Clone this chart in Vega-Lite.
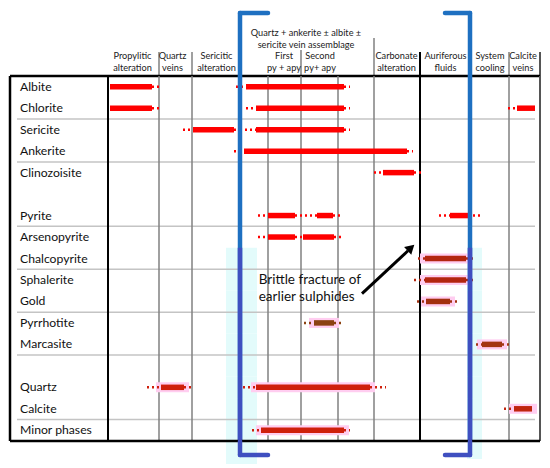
{
  "$schema": "https://vega.github.io/schema/vega-lite/v6.json",
  "padding": {"left": 8, "right": 12, "top": 0, "bottom": 0},
  "spacing": 0,
  "bounds": "flush",
  "config": {"view": {"stroke": null}, "font": "Lato", "text": {"font": "Lato"}},
  "resolve": {"scale": {"x": "shared", "y": "independent"}},
  "datasets": {
    "segments": [
      {"mineral": "Albite", "start": 2, "end": 44, "evidence": "observed"},
      {"mineral": "Albite", "start": 44, "end": 51, "evidence": "inferred"},
      {"mineral": "Albite", "start": 128, "end": 138, "evidence": "inferred"},
      {"mineral": "Albite", "start": 138, "end": 236, "evidence": "observed"},
      {"mineral": "Albite", "start": 236, "end": 242, "evidence": "inferred"},
      {"mineral": "Chlorite", "start": 2, "end": 44, "evidence": "observed"},
      {"mineral": "Chlorite", "start": 44, "end": 51, "evidence": "inferred"},
      {"mineral": "Chlorite", "start": 138, "end": 148, "evidence": "inferred"},
      {"mineral": "Chlorite", "start": 148, "end": 236, "evidence": "observed"},
      {"mineral": "Chlorite", "start": 236, "end": 242, "evidence": "inferred"},
      {"mineral": "Chlorite", "start": 400, "end": 409, "evidence": "inferred"},
      {"mineral": "Chlorite", "start": 409, "end": 427, "evidence": "observed"},
      {"mineral": "Sericite", "start": 75, "end": 85, "evidence": "inferred"},
      {"mineral": "Sericite", "start": 85, "end": 126, "evidence": "observed"},
      {"mineral": "Sericite", "start": 126, "end": 131, "evidence": "inferred"},
      {"mineral": "Sericite", "start": 137, "end": 148, "evidence": "inferred"},
      {"mineral": "Sericite", "start": 148, "end": 236, "evidence": "observed"},
      {"mineral": "Sericite", "start": 236, "end": 242, "evidence": "inferred"},
      {"mineral": "Ankerite", "start": 126, "end": 136, "evidence": "inferred"},
      {"mineral": "Ankerite", "start": 136, "end": 299, "evidence": "observed"},
      {"mineral": "Ankerite", "start": 299, "end": 305, "evidence": "inferred"},
      {"mineral": "Clinozoisite", "start": 266, "end": 275, "evidence": "inferred"},
      {"mineral": "Clinozoisite", "start": 275, "end": 306, "evidence": "observed"},
      {"mineral": "Clinozoisite", "start": 306, "end": 313, "evidence": "inferred"},
      {"mineral": "Pyrite", "start": 150, "end": 160, "evidence": "inferred"},
      {"mineral": "Pyrite", "start": 160, "end": 187, "evidence": "observed"},
      {"mineral": "Pyrite", "start": 187, "end": 209, "evidence": "inferred"},
      {"mineral": "Pyrite", "start": 209, "end": 225, "evidence": "observed"},
      {"mineral": "Pyrite", "start": 225, "end": 234, "evidence": "inferred"},
      {"mineral": "Pyrite", "start": 331, "end": 342, "evidence": "inferred"},
      {"mineral": "Pyrite", "start": 342, "end": 360, "evidence": "observed"},
      {"mineral": "Pyrite", "start": 360, "end": 373, "evidence": "inferred"},
      {"mineral": "Arsenopyrite", "start": 150, "end": 160, "evidence": "inferred"},
      {"mineral": "Arsenopyrite", "start": 160, "end": 187, "evidence": "observed"},
      {"mineral": "Arsenopyrite", "start": 187, "end": 195, "evidence": "inferred"},
      {"mineral": "Arsenopyrite", "start": 195, "end": 226, "evidence": "observed"},
      {"mineral": "Arsenopyrite", "start": 226, "end": 234, "evidence": "inferred"},
      {"mineral": "Chalcopyrite", "start": 310, "end": 317, "evidence": "inferred"},
      {"mineral": "Chalcopyrite", "start": 317, "end": 358, "evidence": "observed"},
      {"mineral": "Chalcopyrite", "start": 358, "end": 367, "evidence": "inferred"},
      {"mineral": "Sphalerite", "start": 306, "end": 317, "evidence": "inferred"},
      {"mineral": "Sphalerite", "start": 317, "end": 358, "evidence": "observed"},
      {"mineral": "Sphalerite", "start": 358, "end": 368, "evidence": "inferred"},
      {"mineral": "Gold", "start": 309, "end": 318, "evidence": "inferred"},
      {"mineral": "Gold", "start": 318, "end": 342, "evidence": "observed"},
      {"mineral": "Gold", "start": 342, "end": 351, "evidence": "inferred"},
      {"mineral": "Pyrrhotite", "start": 196, "end": 206, "evidence": "inferred"},
      {"mineral": "Pyrrhotite", "start": 206, "end": 226, "evidence": "observed"},
      {"mineral": "Pyrrhotite", "start": 226, "end": 234, "evidence": "inferred"},
      {"mineral": "Marcasite", "start": 368, "end": 374, "evidence": "inferred"},
      {"mineral": "Marcasite", "start": 374, "end": 394, "evidence": "observed"},
      {"mineral": "Marcasite", "start": 394, "end": 402, "evidence": "inferred"},
      {"mineral": "Quartz", "start": 39, "end": 53, "evidence": "inferred"},
      {"mineral": "Quartz", "start": 53, "end": 76, "evidence": "observed"},
      {"mineral": "Quartz", "start": 76, "end": 86, "evidence": "inferred"},
      {"mineral": "Quartz", "start": 135, "end": 148, "evidence": "inferred"},
      {"mineral": "Quartz", "start": 148, "end": 262, "evidence": "observed"},
      {"mineral": "Quartz", "start": 262, "end": 278, "evidence": "inferred"},
      {"mineral": "Calcite", "start": 396, "end": 406, "evidence": "inferred"},
      {"mineral": "Calcite", "start": 406, "end": 424, "evidence": "observed"},
      {"mineral": "Minor phases", "start": 144, "end": 153, "evidence": "inferred"},
      {"mineral": "Minor phases", "start": 153, "end": 236, "evidence": "observed"},
      {"mineral": "Minor phases", "start": 236, "end": 242, "evidence": "inferred"}
    ],
    "labels": [
      {"mineral": "Albite"}, {"mineral": "Chlorite"}, {"mineral": "Sericite"}, {"mineral": "Ankerite"},
      {"mineral": "Clinozoisite"}, {"mineral": "Pyrite"}, {"mineral": "Arsenopyrite"}, {"mineral": "Chalcopyrite"},
      {"mineral": "Sphalerite"}, {"mineral": "Gold"}, {"mineral": "Pyrrhotite"}, {"mineral": "Marcasite"},
      {"mineral": "Quartz"}, {"mineral": "Calcite"}, {"mineral": "Minor phases"}
    ],
    "separators": [
      {"mineral": "Sericite"}, {"mineral": "Clinozoisite"}, {"mineral": "Arsenopyrite"}, {"mineral": "Sphalerite"},
      {"mineral": "Pyrrhotite"}, {"mineral": "  "}, {"mineral": "Minor phases"}
    ],
    "lower": [
      {"mineral": "Chalcopyrite"}, {"mineral": "Sphalerite"}, {"mineral": "Gold"}, {"mineral": "Pyrrhotite"},
      {"mineral": "Marcasite"}, {"mineral": "  "}, {"mineral": "Quartz"}, {"mineral": "Calcite"}, {"mineral": "Minor phases"}
    ],
    "stageLines": [
      {"t": 51}, {"t": 84}, {"t": 160}, {"t": 193}, {"t": 230}, {"t": 266}, {"t": 401}
    ],
    "headerLines": [
      {"t": 51, "top": 52}, {"t": 84, "top": 52}, {"t": 193, "top": 50}, {"t": 266, "top": 38}, {"t": 401, "top": 52}
    ],
    "headers": [
      {"label": "Propylitic\nalteration", "mid": 24.5, "level": 56},
      {"label": "Quartz\nveins", "mid": 64.5, "level": 56},
      {"label": "Sericitic\nalteration", "mid": 108.5, "level": 56},
      {"label": "Quartz + ankerite ± albite ±\nsericite vein assemblage", "mid": 198, "level": 33},
      {"label": "First\npy + apy", "mid": 176, "level": 56},
      {"label": "Second\npy+ apy", "mid": 212, "level": 56},
      {"label": "Carbonate\nalteration", "mid": 288.5, "level": 56},
      {"label": "Auriferous\nfluids", "mid": 337.5, "level": 56},
      {"label": "System\ncooling", "mid": 382, "level": 56},
      {"label": "Calcite\nveins", "mid": 415, "level": 56}
    ]
  },
  "vconcat": [
    {
      "width": 530,
      "height": 76,
      "data": {"values": [{}]},
      "layer": [
        {
          "data": {"name": "headerLines"},
          "mark": {"type": "rule", "color": "#808080", "strokeWidth": 1.5},
          "encoding": {
            "x": {"field": "t", "type": "quantitative", "scale": {"domain": [-98, 432], "nice": false, "zero": false}, "axis": null},
            "y": {"field": "top", "type": "quantitative", "scale": {"domain": [0, 76], "reverse": true, "nice": false, "zero": false}, "axis": null},
            "y2": {"datum": 76}
          }
        },
        {
          "mark": {"type": "rule", "color": "#000000", "strokeWidth": 2},
          "encoding": {"x": {"datum": 312, "type": "quantitative", "axis": null}, "y": {"datum": 52, "type": "quantitative", "axis": null}, "y2": {"datum": 76}}
        },
        {
          "mark": {"type": "rule", "color": "#555555", "strokeWidth": 2},
          "encoding": {"x": {"datum": 432, "type": "quantitative", "axis": null}, "y": {"datum": 52, "type": "quantitative", "axis": null}, "y2": {"datum": 76}}
        },
        {
          "mark": {"type": "rule", "color": "#000000", "strokeWidth": 2.5},
          "encoding": {"x": {"datum": -98, "type": "quantitative", "axis": null}, "x2": {"datum": 432}, "y": {"datum": 76, "type": "quantitative", "axis": null}}
        },
        {
          "data": {"name": "headers"},
          "mark": {"type": "text", "fontSize": 9.2, "lineBreak": "\n", "lineHeight": 11.5, "align": "center", "baseline": "middle", "color": "#222222"},
          "encoding": {
            "x": {"field": "mid", "type": "quantitative", "axis": null},
            "y": {"field": "level", "type": "quantitative", "axis": null},
            "text": {"field": "label"}
          }
        },
        {
          "mark": {"type": "rule", "color": "#1e70c1", "strokeWidth": 4.5, "strokeCap": "round"},
          "encoding": {"x": {"datum": 132, "type": "quantitative", "axis": null}, "y": {"datum": 13, "type": "quantitative", "axis": null}, "y2": {"datum": 76}}
        },
        {
          "mark": {"type": "rule", "color": "#1e70c1", "strokeWidth": 4.5, "strokeCap": "round"},
          "encoding": {"x": {"datum": 362, "type": "quantitative", "axis": null}, "y": {"datum": 13, "type": "quantitative", "axis": null}, "y2": {"datum": 76}}
        },
        {
          "mark": {"type": "rule", "color": "#1e70c1", "strokeWidth": 4.5, "strokeCap": "round"},
          "encoding": {"x": {"datum": 132, "type": "quantitative", "axis": null}, "x2": {"datum": 160}, "y": {"datum": 13, "type": "quantitative", "axis": null}}
        },
        {
          "mark": {"type": "rule", "color": "#1e70c1", "strokeWidth": 4.5, "strokeCap": "round"},
          "encoding": {"x": {"datum": 337, "type": "quantitative", "axis": null}, "x2": {"datum": 362}, "y": {"datum": 13, "type": "quantitative", "axis": null}}
        }
      ]
    },
    {
      "width": 530,
      "height": 365,
      "layer": [
        {
          "data": {"name": "lower"},
          "mark": {"type": "rect", "color": "#e3fbfb"},
          "encoding": {
            "x": {"datum": 118, "type": "quantitative", "axis": null},
            "x2": {"datum": 149},
            "y": {"field": "mineral", "type": "nominal", "axis": null, "scale": {"type": "band", "domain": ["Albite", "Chlorite", "Sericite", "Ankerite", "Clinozoisite", " ", "Pyrite", "Arsenopyrite", "Chalcopyrite", "Sphalerite", "Gold", "Pyrrhotite", "Marcasite", "  ", "Quartz", "Calcite", "Minor phases"], "paddingInner": 0, "paddingOuter": 0}}
          }
        },
        {
          "data": {"name": "lower"},
          "mark": {"type": "rect", "color": "#e3fbfb"},
          "encoding": {
            "x": {"datum": 359, "type": "quantitative", "axis": null},
            "x2": {"datum": 374},
            "y": {"field": "mineral", "type": "nominal", "axis": null}
          }
        },
        {
          "data": {"name": "separators"},
          "mark": {"type": "rule", "color": "#c4c4c4", "strokeWidth": 1.5},
          "encoding": {
            "x": {"datum": -91, "type": "quantitative", "axis": null},
            "x2": {"datum": 427},
            "y": {"field": "mineral", "type": "nominal", "bandPosition": 0, "axis": null}
          }
        },
        {
          "data": {"name": "stageLines"},
          "mark": {"type": "rule", "color": "#808080", "strokeWidth": 1.5},
          "encoding": {"x": {"field": "t", "type": "quantitative", "axis": null}}
        },
        {
          "data": {"values": [{"t": 0}, {"t": 312}]},
          "mark": {"type": "rule", "color": "#000000", "strokeWidth": 2},
          "encoding": {"x": {"field": "t", "type": "quantitative", "axis": null}}
        },
        {
          "data": {"values": [{"t": -98}]},
          "mark": {"type": "rule", "color": "#000000", "strokeWidth": 2.5},
          "encoding": {"x": {"field": "t", "type": "quantitative", "axis": null}}
        },
        {
          "data": {"values": [{"t": 432}]},
          "mark": {"type": "rule", "color": "#555555", "strokeWidth": 2},
          "encoding": {"x": {"field": "t", "type": "quantitative", "axis": null}}
        },
        {
          "data": {"name": "segments"},
          "transform": [
            {"filter": {"field": "evidence", "equal": "observed"}},
            {"filter": {"field": "mineral", "oneOf": ["Chalcopyrite", "Sphalerite", "Gold", "Pyrrhotite", "Marcasite", "Quartz", "Calcite", "Minor phases"]}}
          ],
          "mark": {"type": "rule", "color": "#ffcdf0", "strokeWidth": 10, "strokeCap": "square"},
          "encoding": {
            "x": {"field": "start", "type": "quantitative", "axis": null},
            "x2": {"field": "end"},
            "y": {"field": "mineral", "type": "nominal", "axis": null}
          }
        },
        {
          "data": {"name": "segments"},
          "transform": [{"filter": {"field": "evidence", "equal": "inferred"}}],
          "mark": {"type": "rule", "strokeWidth": 2.5, "strokeDash": [2, 3]},
          "encoding": {
            "x": {"field": "start", "type": "quantitative", "axis": null},
            "x2": {"field": "end"},
            "y": {"field": "mineral", "type": "nominal", "axis": null},
            "color": {"field": "mineral", "type": "nominal", "legend": null,
              "scale": {"domain": ["Albite", "Chlorite", "Sericite", "Ankerite", "Clinozoisite", "Pyrite", "Arsenopyrite", "Chalcopyrite", "Sphalerite", "Gold", "Pyrrhotite", "Marcasite", "Quartz", "Calcite", "Minor phases"],
                "range": ["#ff0000", "#ff0000", "#ff0000", "#ff0000", "#ff0000", "#ff0000", "#ff0000", "#b3260f", "#b3260f", "#a3300f", "#8c4212", "#a33512", "#cf200c", "#c0250e", "#cf200c"]}}
          }
        },
        {
          "data": {"name": "segments"},
          "transform": [{"filter": {"field": "evidence", "equal": "observed"}}],
          "mark": {"type": "rule", "strokeWidth": 5.5},
          "encoding": {
            "x": {"field": "start", "type": "quantitative", "axis": null},
            "x2": {"field": "end"},
            "y": {"field": "mineral", "type": "nominal", "axis": null},
            "color": {"field": "mineral", "type": "nominal", "legend": null}
          }
        },
        {
          "data": {"values": [{"t": 132}, {"t": 362}]},
          "mark": {"type": "rule", "color": "#1e70c1", "strokeWidth": 4.5},
          "encoding": {"x": {"field": "t", "type": "quantitative", "axis": null}}
        },
        {
          "data": {"name": "lower"},
          "mark": {"type": "rect", "color": "#3f4fc0"},
          "encoding": {
            "x": {"datum": 129.75, "type": "quantitative", "axis": null},
            "x2": {"datum": 134.25},
            "y": {"field": "mineral", "type": "nominal", "axis": null}
          }
        },
        {
          "data": {"name": "lower"},
          "mark": {"type": "rect", "color": "#3f4fc0"},
          "encoding": {
            "x": {"datum": 359.75, "type": "quantitative", "axis": null},
            "x2": {"datum": 364.25},
            "y": {"field": "mineral", "type": "nominal", "axis": null}
          }
        },
        {
          "data": {"name": "labels"},
          "mark": {"type": "text", "fontSize": 12.2, "align": "left", "baseline": "middle", "color": "#111111"},
          "encoding": {
            "x": {"datum": -88, "type": "quantitative", "axis": null},
            "y": {"field": "mineral", "type": "nominal", "axis": null},
            "text": {"field": "mineral"}
          }
        },
        {
          "data": {"values": [{"t": 150.7, "mineral": "Sphalerite", "note": "Brittle fracture of\nearlier sulphides"}]},
          "mark": {"type": "text", "fontSize": 13.5, "align": "left", "baseline": "middle", "lineBreak": "\n", "lineHeight": 17.5, "color": "#111111"},
          "encoding": {
            "x": {"field": "t", "type": "quantitative", "axis": null},
            "y": {"field": "mineral", "type": "nominal", "bandPosition": 0.5, "axis": null},
            "text": {"field": "note"}
          }
        },
        {
          "data": {"values": [{"t": 254, "mineral": "Gold"}, {"t": 300, "mineral": "Chalcopyrite"}]},
          "mark": {"type": "line", "color": "#000000", "strokeWidth": 3},
          "encoding": {
            "x": {"field": "t", "type": "quantitative", "axis": null},
            "y": {"field": "mineral", "type": "nominal", "bandPosition": 0.14, "axis": null}
          }
        },
        {
          "data": {"values": [{"t": 303, "mineral": "Chalcopyrite"}]},
          "mark": {"type": "point", "shape": "triangle-up", "filled": true, "size": 110, "angle": 47, "color": "#000000", "opacity": 1},
          "encoding": {
            "x": {"field": "t", "type": "quantitative", "axis": null},
            "y": {"field": "mineral", "type": "nominal", "bandPosition": 0.0, "axis": null}
          }
        }
      ]
    },
    {
      "width": 530,
      "height": 27,
      "data": {"values": [{}]},
      "layer": [
        {
          "mark": {"type": "rect", "color": "#e3fbfb"},
          "encoding": {
            "x": {"datum": 118, "type": "quantitative", "axis": null},
            "x2": {"datum": 149},
            "y": {"datum": 0, "type": "quantitative", "axis": null, "scale": {"domain": [0, 27], "reverse": true, "nice": false, "zero": false}},
            "y2": {"datum": 23}
          }
        },
        {
          "mark": {"type": "rect", "color": "#e3fbfb"},
          "encoding": {
            "x": {"datum": 359, "type": "quantitative", "axis": null},
            "x2": {"datum": 374},
            "y": {"datum": 0, "type": "quantitative", "axis": null},
            "y2": {"datum": 18}
          }
        },
        {
          "mark": {"type": "rule", "color": "#000000", "strokeWidth": 2.5},
          "encoding": {"x": {"datum": -98, "type": "quantitative", "axis": null}, "x2": {"datum": 432}, "y": {"datum": 0, "type": "quantitative", "axis": null}}
        },
        {
          "mark": {"type": "rule", "color": "#3f4fc0", "strokeWidth": 4.5, "strokeCap": "round"},
          "encoding": {"x": {"datum": 132, "type": "quantitative", "axis": null}, "y": {"datum": 0, "type": "quantitative", "axis": null}, "y2": {"datum": 14}}
        },
        {
          "mark": {"type": "rule", "color": "#3f4fc0", "strokeWidth": 4.5, "strokeCap": "round"},
          "encoding": {"x": {"datum": 362, "type": "quantitative", "axis": null}, "y": {"datum": 0, "type": "quantitative", "axis": null}, "y2": {"datum": 14}}
        },
        {
          "mark": {"type": "rule", "color": "#3f4fc0", "strokeWidth": 4.5, "strokeCap": "round"},
          "encoding": {"x": {"datum": 132, "type": "quantitative", "axis": null}, "x2": {"datum": 160}, "y": {"datum": 14, "type": "quantitative", "axis": null}}
        },
        {
          "mark": {"type": "rule", "color": "#3f4fc0", "strokeWidth": 4.5, "strokeCap": "round"},
          "encoding": {"x": {"datum": 337, "type": "quantitative", "axis": null}, "x2": {"datum": 362}, "y": {"datum": 14, "type": "quantitative", "axis": null}}
        }
      ]
    }
  ]
}
